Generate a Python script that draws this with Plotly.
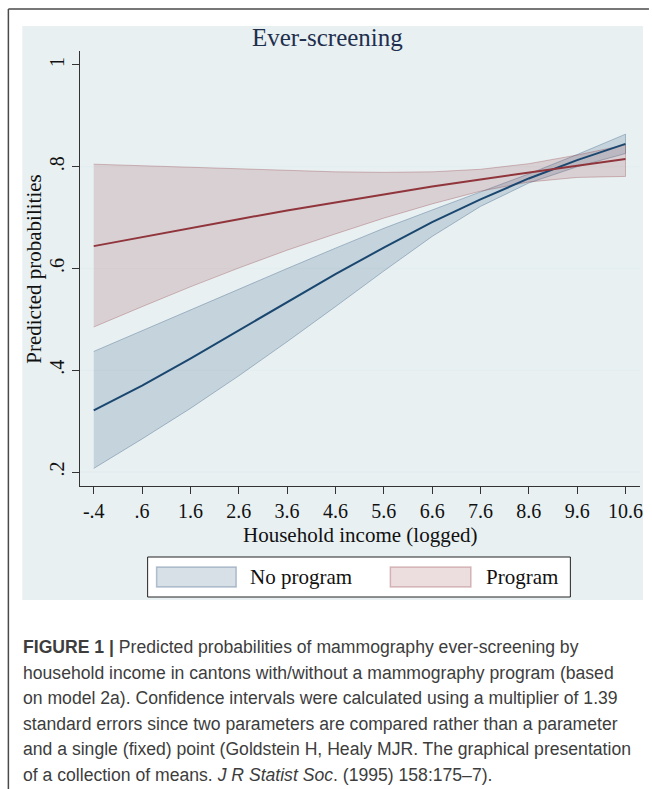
import plotly.graph_objects as go

# ---------------- data ----------------
x_vals = [-0.4, 0.6, 1.6, 2.6, 3.6, 4.6, 5.6, 6.6, 7.6, 8.6, 9.6, 10.6]

noprog_mean = [0.321, 0.370, 0.423, 0.478, 0.534, 0.589, 0.641, 0.691, 0.736, 0.777, 0.813, 0.845]
noprog_lo = [0.207, 0.265, 0.325, 0.389, 0.456, 0.525, 0.595, 0.663, 0.722, 0.768, 0.800, 0.826]
noprog_hi = [0.437, 0.478, 0.519, 0.560, 0.600, 0.640, 0.679, 0.715, 0.750, 0.786, 0.824, 0.864]

prog_mean = [0.644, 0.662, 0.680, 0.697, 0.714, 0.730, 0.746, 0.761, 0.775, 0.789, 0.802, 0.815]
prog_lo = [0.485, 0.525, 0.564, 0.601, 0.636, 0.668, 0.699, 0.727, 0.752, 0.770, 0.779, 0.781]
prog_hi = [0.805, 0.802, 0.799, 0.796, 0.793, 0.790, 0.789, 0.790, 0.795, 0.806, 0.823, 0.843]

series_names = ["No program", "Program"]

x_ticks = [-0.4, 0.6, 1.6, 2.6, 3.6, 4.6, 5.6, 6.6, 7.6, 8.6, 9.6, 10.6]
x_labels = ["-.4", ".6", "1.6", "2.6", "3.6", "4.6", "5.6", "6.6", "7.6", "8.6", "9.6", "10.6"]
y_ticks = [0.2, 0.4, 0.6, 0.8, 1.0]
y_labels = [".2", ".4", ".6", ".8", "1"]
grid_vals = [0.2, 0.4, 0.6, 0.8]

title_text = "Ever-screening"
x_title = "Household income (logged)"
y_title = "Predicted probabilities"

caption_lines = [
    "<b>FIGURE 1 |</b> Predicted probabilities of mammography ever-screening by",
    "household income in cantons with/without a mammography program (based",
    "on model 2a). Confidence intervals were calculated using a multiplier of 1.39",
    "standard errors since two parameters are compared rather than a parameter",
    "and a single (fixed) point (Goldstein H, Healy MJR. The graphical presentation",
    "of a collection of means. <i>J R Statist Soc</i>. (1995) 158:175\u20137).",
]

# ---------------- styling ----------------
W, H = 652, 789
L, R, T, B = 80, 9, 51, 303
PW, PH = W - L - R, H - T - B
X_RANGE = [-0.684, 10.90]
Y_RANGE = [0.1725, 1.0275]

BLUE = "#1a476f"
RED = "#90353b"
BLUE_FILL = "rgba(26,71,111,0.17)"
RED_FILL = "rgba(144,53,59,0.17)"
BLUE_EDGE = "rgba(26,71,111,0.30)"
RED_EDGE = "rgba(144,53,59,0.30)"
REGION = "#e8f0f2"
GRID = "#e4edf0"
SERIF = "Liberation Serif"
SANS = "Liberation Sans"


def px(x):
    return (x - L) / PW


def py(y):
    return (H - B - y) / PH


fig = go.Figure()

# confidence bands (closed polygons)
for lo, hi, fill, edge, name in [
    (noprog_lo, noprog_hi, BLUE_FILL, BLUE_EDGE, series_names[0]),
    (prog_lo, prog_hi, RED_FILL, RED_EDGE, series_names[1]),
]:
    fig.add_trace(go.Scatter(
        x=x_vals + x_vals[::-1], y=hi + lo[::-1],
        fill="toself", fillcolor=fill, mode="lines",
        line=dict(color=edge, width=1), name=name, showlegend=False,
        hoverinfo="skip",
    ))

# predicted lines
fig.add_trace(go.Scatter(x=x_vals, y=noprog_mean, mode="lines",
                         line=dict(color=BLUE, width=2), showlegend=False,
                         name=series_names[0]))
fig.add_trace(go.Scatter(x=x_vals, y=prog_mean, mode="lines",
                         line=dict(color=RED, width=2), showlegend=False,
                         name=series_names[1]))

shapes = []
# outer figure frame (open to the right / bottom)
shapes.append(dict(type="line", xref="paper", yref="paper",
                   x0=px(8), x1=px(652), y0=py(9), y1=py(9),
                   line=dict(color="#4a4a4a", width=1.5), layer="above"))
shapes.append(dict(type="line", xref="paper", yref="paper",
                   x0=px(8), x1=px(8), y0=py(9), y1=py(789),
                   line=dict(color="#4a4a4a", width=1.5), layer="above"))
# graph region background
shapes.append(dict(type="rect", xref="paper", yref="paper",
                   x0=px(22), x1=px(646), y0=py(26), y1=py(600),
                   line=dict(width=0), fillcolor=REGION, layer="below"))
# gridlines
for g in grid_vals:
    shapes.append(dict(type="line", xref="x", yref="y", x0=X_RANGE[0], x1=X_RANGE[1],
                       y0=g, y1=g, line=dict(color=GRID, width=1.5), layer="below"))
# legend box + swatches
shapes.append(dict(type="rect", xref="paper", yref="paper",
                   x0=px(148), x1=px(573), y0=py(557), y1=py(597),
                   line=dict(color="#222222", width=1), fillcolor="white"))
shapes.append(dict(type="rect", xref="paper", yref="paper",
                   x0=px(157), x1=px(237), y0=py(567), y1=py(587),
                   line=dict(color=BLUE_EDGE, width=1.5), fillcolor=BLUE_FILL))
shapes.append(dict(type="rect", xref="paper", yref="paper",
                   x0=px(392), x1=px(473), y0=py(567), y1=py(587),
                   line=dict(color=RED_EDGE, width=1.5), fillcolor=RED_FILL))

annotations = []
annotations.append(dict(text=title_text, xref="paper", yref="paper",
                        x=px(328.5), y=py(37), xanchor="center", yanchor="middle",
                        showarrow=False, font=dict(family=SERIF, size=25, color="#1f2f4d")))
annotations.append(dict(text=x_title, xref="paper", yref="paper",
                        x=px(361), y=py(535), xanchor="center", yanchor="middle",
                        showarrow=False, font=dict(family=SERIF, size=21, color="#111111")))
annotations.append(dict(text=y_title, xref="paper", yref="paper",
                        x=px(33), y=py(268.5), xanchor="center", yanchor="middle",
                        textangle=-90, showarrow=False,
                        font=dict(family=SERIF, size=21, color="#111111")))
annotations.append(dict(text=series_names[0], xref="paper", yref="paper",
                        x=px(249), y=py(577), xanchor="left", yanchor="middle",
                        showarrow=False, font=dict(family=SERIF, size=21, color="#111111")))
annotations.append(dict(text=series_names[1], xref="paper", yref="paper",
                        x=px(486), y=py(577), xanchor="left", yanchor="middle",
                        showarrow=False, font=dict(family=SERIF, size=21, color="#111111")))

cap_y0, cap_dy = 647, 25.5
for i, line in enumerate(caption_lines):
    annotations.append(dict(text=line, xref="paper", yref="paper",
                            x=px(21), y=py(cap_y0 + i * cap_dy), xanchor="left",
                            yanchor="middle", showarrow=False, align="left",
                            font=dict(family=SANS, size=17.6, color="#3d3d3d")))

axis_font = dict(family=SERIF, size=20, color="#111111")
fig.update_layout(
    width=W, height=H, autosize=False,
    margin=dict(l=L, r=R, t=T, b=B, pad=0),
    paper_bgcolor="white", plot_bgcolor="white",
    shapes=shapes, annotations=annotations,
    showlegend=False,
    xaxis=dict(range=X_RANGE, tickvals=x_ticks, ticktext=x_labels,
               showgrid=False, zeroline=False, showline=True,
               linecolor="#333333", linewidth=1, ticks="outside", ticklen=7,
               tickwidth=1, tickcolor="#333333", tickfont=axis_font),
    yaxis=dict(range=Y_RANGE, tickvals=y_ticks, ticktext=y_labels,
               showgrid=False, zeroline=False, showline=True, tickangle=-90,
               linecolor="#333333", linewidth=1, ticks="outside", ticklen=7,
               tickwidth=1, tickcolor="#333333", tickfont=axis_font),
)

fig.write_html("out.html", config={"displayModeBar": False},
               post_script="document.body.style.margin='0';document.body.style.overflow='hidden';")
